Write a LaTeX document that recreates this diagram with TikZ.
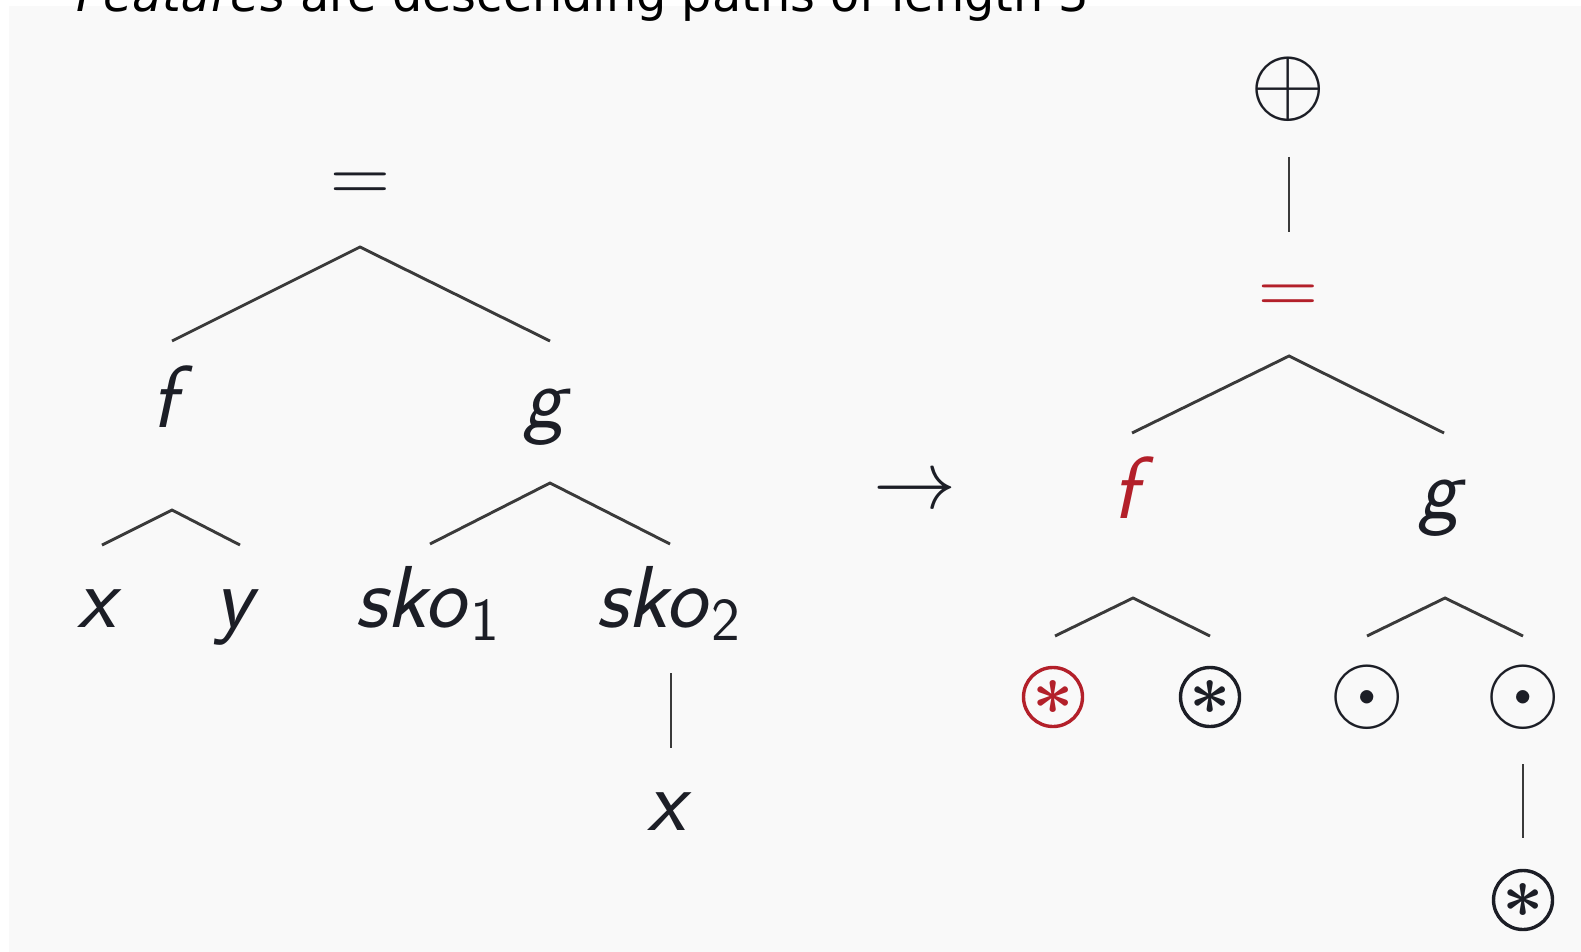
\RequirePackage{fix-cm}
\documentclass[tikz,border=0pt]{standalone}
\usepackage{fontspec}
\newfontfamily\titlefont{DejaVu Sans}
\definecolor{bgc}{HTML}{F9F9F9}
\definecolor{ink}{HTML}{1C1E26}
\definecolor{lin}{HTML}{3A3A3A}
\definecolor{hl}{HTML}{B3202A}
\newcommand\lsf[1]{\textsf{\textit{#1}}}
\newcommand\subdig[1]{\raisebox{-13pt}{\fontsize{61}{64}\selectfont\textsf{#1}}}
\begin{document}
\begin{tikzpicture}[x=1pt,y=-1pt,
  lab/.style={anchor=base,inner sep=0pt,text=ink,font=\fontsize{83}{90}\selectfont},
  letter/.style={lab,font=\fontsize{88}{96}\selectfont},
  sym/.style={lab,font=\fontsize{97}{104}\selectfont},
  oast/.style={circle,draw=ink,text=ink,line width=3.4pt,minimum size=59pt,inner sep=0pt,font=\fontsize{72}{72}\selectfont\boldmath},
  branch/.style={draw=lin,line width=2.9pt}]
\useasboundingbox (0,0) rectangle (1581,952);
\fill[white] (0,0) rectangle (1581,952);
\fill[bgc] (9,6) rectangle (1581,952);
\node[anchor=base west,inner sep=0pt,text=black,font=\titlefont\fontsize{47.7}{50}\selectfont] (title) at (76,12) {\textit{Features} are descending paths of length 3};
% left tree
\node[lab] (eqL) at (360,202) {$=$};
\node[letter] (fL) at (172,427) {\lsf{f}};
\node[letter] (gL) at (547,427) {\lsf{g}};
\node[letter] (xL) at (100,627) {\lsf{x}};
\node[letter] (yL) at (237,627) {\lsf{y}};
\node[letter] (s1) at (427,627) {\lsf{sko}\subdig{1}};
\node[letter] (s2) at (668,627) {\lsf{sko}\subdig{2}};
\node[letter] (x2) at (670,830) {\lsf{x}};
\node[lab] (arr) at (915,508) {$\rightarrow$};
\coordinate (eqL-s) at (360,247);
\coordinate (fL-n) at (172,341);
\coordinate (gL-n) at (550,341);
\coordinate (fL-s) at (172,510);
\coordinate (xL-n) at (102,545);
\coordinate (yL-n) at (240,545);
\coordinate (gL-s) at (550,483);
\coordinate (s1-n) at (430,544);
\coordinate (s2-n) at (670,544);
\coordinate (s2-s) at (671,673);
\coordinate (x2-n) at (671,748);
\draw[branch] (fL-n) -- (eqL-s) -- (gL-n);
\draw[branch] (xL-n) -- (fL-s) -- (yL-n);
\draw[branch] (s1-n) -- (gL-s) -- (s2-n);
\draw[branch] (s2-s) -- (x2-n);
% right tree
\node[sym] (op) at (1288,114) {$\oplus$};
\node[lab,text=hl] (eqR) at (1288,314) {$=$};
\node[letter,text=hl] (fR) at (1133,518) {\lsf{f}};
\node[letter] (gR) at (1442,518) {\lsf{g}};
\node[oast,draw=hl,text=hl] (a1) at (1053,697) {$\ast$};
\node[oast] (a2) at (1210,697) {$\ast$};
\node[sym] (d1) at (1367,721) {$\odot$};
\node[sym] (d2) at (1523,721) {$\odot$};
\node[oast] (a3) at (1523,900) {$\ast$};
\coordinate (op-s) at (1289,157);
\coordinate (eqR-n) at (1289,232);
\coordinate (eqR-s) at (1289,356);
\coordinate (fR-n) at (1132,433);
\coordinate (gR-n) at (1444,433);
\coordinate (fR-s) at (1133,598);
\coordinate (a1-n) at (1055,636);
\coordinate (a2-n) at (1210,636);
\coordinate (gR-s) at (1445,598);
\coordinate (d1-n) at (1367,636);
\coordinate (d2-n) at (1523,636);
\coordinate (d2-s) at (1523,764);
\coordinate (a3-n) at (1523,838);
\draw[branch] (op-s) -- (eqR-n);
\draw[branch] (fR-n) -- (eqR-s) -- (gR-n);
\draw[branch] (a1-n) -- (fR-s) -- (a2-n);
\draw[branch] (d1-n) -- (gR-s) -- (d2-n);
\draw[branch] (d2-s) -- (a3-n);
\end{tikzpicture}
\end{document}
